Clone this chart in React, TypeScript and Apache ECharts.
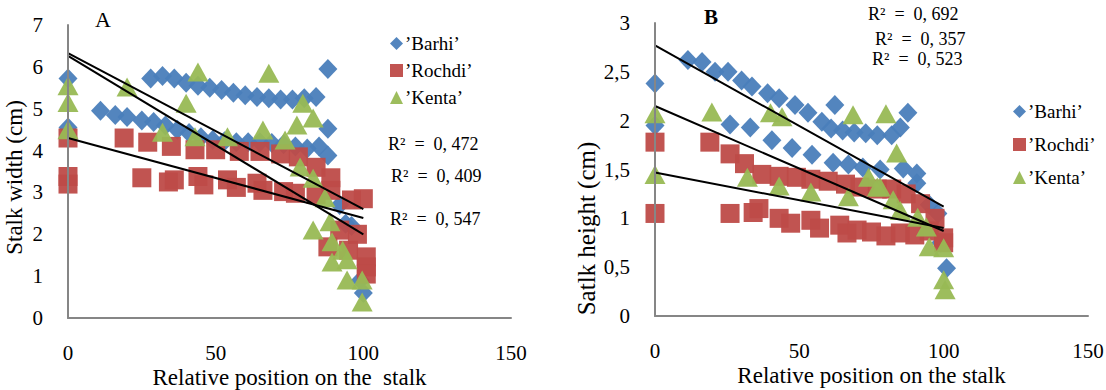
import React, { useEffect, useRef } from "react";
import * as echarts from "echarts";

const seriesNames = ["’Barhi’", "’Rochdi’", "’Kenta’"];
const xTicks = [0, 50, 100, 150];

// Chart A: stalk width (cm)
const barhiWidth = [
  [0, 5.72], [0, 4.55],
  [11, 4.95], [16, 4.85], [20, 4.8], [25, 4.72], [29, 4.68], [33, 4.6], [37, 4.5], [41, 4.42],
  [45, 4.32], [49, 4.25], [53, 4.22], [57, 4.2], [61, 4.2], [65, 4.2], [69, 4.18], [73, 4.15],
  [77, 4.1], [81, 4.05], [85, 4.1],
  [28, 5.72], [32, 5.78], [36, 5.72], [40, 5.62], [44, 5.55], [48, 5.5], [52, 5.45], [56, 5.38],
  [60, 5.32], [64, 5.28], [68, 5.25], [72, 5.22], [76, 5.22], [80, 5.25], [84, 5.28],
  [88, 5.95], [88, 4.52], [88, 3.88], [92, 2.7], [94, 2.25], [96, 2.2], [99, 0.9], [100, 0.6],
];
const rochdiWidth = [
  [0, 4.3], [0, 3.38], [0, 3.2],
  [19, 4.3], [27, 4.2], [35, 4.1], [43, 4.02], [50, 4.02], [58, 3.98], [65, 3.98], [72, 3.92],
  [78, 3.85], [84, 3.6], [89, 3.35], [96, 2.82], [100, 2.85],
  [25, 3.35], [34, 3.25], [36, 3.3], [44, 3.38], [46, 3.18], [54, 3.3], [57, 3.12], [64, 3.22],
  [66, 3.05], [73, 3.02], [77, 2.98], [84, 2.95], [89, 3.05],
  [88, 1.7], [92, 2.1], [95, 1.62], [98, 2.0], [101, 1.46], [101, 1.22], [101, 1.05],
];
const kentaWidth = [
  [0, 5.55], [0, 5.15], [0, 4.5],
  [20, 5.52], [32, 4.44], [40, 5.13], [44, 5.88], [43, 4.33], [54, 4.33], [66, 4.49], [68, 5.85],
  [73.5, 4.25], [77.5, 4.61], [79.5, 5.13], [83, 4.78], [78.6, 3.61], [83, 3.34], [87, 2.87],
  [83, 2.1], [88.7, 2.3], [89.4, 1.82], [93, 1.62], [89.4, 1.34], [94.5, 1.39], [94.5, 0.91],
  [99.6, 0.91], [99.6, 0.38],
];
const trendWidth = [
  [[0, 6.33], [100, 2.6]],
  [[0, 4.3], [100, 2.39]],
  [[0, 6.26], [100, 2.0]],
];
const r2Width = ["R²  =  0, 472", "R²  =  0, 409", "R²  =  0, 547"];

// Chart B: stalk height (cm)
const barhiHeight = [
  [0, 2.38], [0, 1.95],
  [11.4, 2.62], [16.3, 2.6], [20.8, 2.5], [25.3, 2.5], [30, 2.41], [33.6, 2.35], [39, 2.28],
  [43, 2.23], [48.5, 2.16], [53, 2.08], [57.8, 1.99], [62.3, 2.16], [61, 1.92], [65, 1.9],
  [69, 1.88], [73, 1.87], [77, 1.85], [82, 1.85], [85, 1.93], [87.6, 2.08],
  [26, 1.96], [33, 1.93], [40.5, 1.8], [47.5, 1.72], [54.4, 1.65], [61.7, 1.57], [67, 1.55],
  [72, 1.52], [78, 1.5], [86, 1.51], [90.7, 1.46],
  [90.7, 1.36], [95, 1.14], [98, 1.05], [99, 0.75], [101, 0.49],
];
const rochdiHeight = [
  [0, 1.78], [0, 1.05],
  [19, 1.78], [26, 1.66], [31, 1.56], [37, 1.45], [43, 1.43], [49, 1.42], [54, 1.4], [60, 1.38],
  [66, 1.35], [71, 1.32], [77, 1.3], [82, 1.3], [87, 1.25], [92, 1.15], [97, 1.0], [100, 0.8],
  [26, 1.05], [34, 1.06], [36, 1.1], [43, 1.0], [47, 0.95], [54, 0.98], [57, 0.9], [64, 0.93],
  [66.5, 0.85], [70, 0.88], [75, 0.86], [80, 0.82], [85, 0.85], [90, 0.83], [95, 0.87], [100, 0.75],
];
const kentaHeight = [
  [0, 2.07], [0, 1.45],
  [19.7, 2.09], [40, 2.08], [44, 2.04], [32, 1.42], [43, 1.33], [54, 1.27], [67, 1.22],
  [68.6, 2.06], [80, 2.07], [83.7, 1.67], [74, 1.42], [78, 1.32], [77, 1.32], [82.5, 1.19],
  [85, 1.08], [91, 1.01], [94, 0.91], [95, 0.71], [100, 0.7], [100, 0.37], [100.5, 0.27],
];
const trendHeight = [
  [[0, 2.77], [100, 1.12]],
  [[0, 1.47], [100, 0.9]],
  [[0, 2.15], [100, 0.87]],
];
const r2Height = ["R²  =  0, 692", "R²  =  0, 357", "R²  =  0, 523"];

const COLORS = ["#4A7EBB", "#BE4B48", "#98B954"];
const SYMBOLS = ["diamond", "rect", "triangle"];
const SIZES = [[19, 20], [19, 19], [21, 19]];
const FONT = "Liberation Serif";

export default function App() {
  const ref = useRef<HTMLDivElement>(null);
  useEffect(() => {
    if (!ref.current) return;
    const chart = echarts.init(ref.current, undefined, { renderer: "svg" });
    const lineStyle = { color: "#868686", width: 2 };
    const labelStyle = { color: "#000", fontFamily: FONT, fontSize: 21 };
    const nameStyle = { color: "#000", fontFamily: FONT, fontSize: 23 };
    const xAxisBase = (gi: number, gap: number) => ({
      type: "value",
      gridIndex: gi,
      position: "bottom",
      min: xTicks[0],
      max: xTicks[xTicks.length - 1],
      interval: 50,
      axisLine: { show: true, onZero: false, lineStyle },
      axisTick: { show: false },
      splitLine: { show: false },
      axisLabel: { ...labelStyle, margin: gap, lineHeight: 16 },
      name: gi === 0 ? "Relative position on the  stalk" : "Relative position on the stalk",
      nameLocation: "middle",
      nameGap: 50,
      nameMoveOverlap: false,
      nameTextStyle: { ...nameStyle, lineHeight: 18 },
      z: 20,
    });
    const series: any[] = [];
    const dataW = [barhiWidth, rochdiWidth, kentaWidth];
    const dataH = [barhiHeight, rochdiHeight, kentaHeight];
    [dataW, dataH].forEach((set, gi) => {
      set.forEach((d, i) => {
        series.push({
          type: "scatter",
          name: seriesNames[i],
          xAxisIndex: gi,
          yAxisIndex: gi,
          data: d,
          symbol: SYMBOLS[i],
          symbolSize: SIZES[i],
          itemStyle: { color: COLORS[i], opacity: 0.95 },
          z: 2 + i,
        });
      });
    });
    [trendWidth, trendHeight].forEach((set, gi) => {
      set.forEach((d) => {
        series.push({
          type: "line",
          xAxisIndex: gi,
          yAxisIndex: gi,
          data: d,
          symbol: "none",
          lineStyle: { color: "#000", width: 2 },
          z: 10,
        });
      });
    });
    const legendBase = {
      orient: "vertical",
      data: seriesNames,
      itemWidth: 13,
      itemHeight: 13,
      textStyle: { color: "#000", fontFamily: FONT, fontSize: 19, padding: [0, 0, 0, -3] },
    };
    const r2Text = (x: number, y: number, t: string) => ({
      type: "text",
      left: x,
      top: y,
      style: { text: t, font: `18px "${FONT}"`, fill: "#000" },
    });
    chart.setOption({
      animation: false,
      grid: [
        { left: 68, top: 25, width: 443, height: 293, outerBoundsMode: "none", containLabel: false },
        { left: 655, top: 23, width: 433, height: 293, outerBoundsMode: "none", containLabel: false },
      ],
      xAxis: [xAxisBase(0, 27), xAxisBase(1, 27)],
      yAxis: [
        {
          type: "value",
          gridIndex: 0,
          position: "left",
          min: 0,
          max: 7,
          interval: 1,
          axisLine: { show: true, onZero: false, lineStyle },
          axisTick: { show: false },
          splitLine: { show: false },
          axisLabel: { ...labelStyle, margin: 25 },
          name: "Stalk width (cm)",
          nameLocation: "middle",
          nameGap: 42,
          nameMoveOverlap: false,
          nameTextStyle: { ...nameStyle, padding: [0, 12, 0, 0] },
          z: 20,
        },
        {
          type: "value",
          gridIndex: 1,
          position: "left",
          min: 0,
          max: 3,
          interval: 0.5,
          axisLine: { show: true, onZero: false, lineStyle },
          axisTick: { show: false },
          splitLine: { show: false },
          axisLabel: {
            ...labelStyle,
            margin: 25,
            formatter: (v: number) => String(v).replace(".", ","),
          },
          name: "Satlk height (cm)",
          nameLocation: "middle",
          nameGap: 56,
          nameMoveOverlap: false,
          nameTextStyle: { ...nameStyle, fontSize: 25, padding: [0, 118, 0, 0] },
          z: 20,
        },
      ],
      legend: [
        { ...legendBase, left: 385, top: 29, itemGap: 8 },
        { ...legendBase, left: 1008, top: 97, itemGap: 14 },
      ],
      graphic: [
        { type: "text", left: 95, top: 8, style: { text: "A", font: `22px "${FONT}"`, fill: "#000" } },
        { type: "text", left: 704, top: 6, style: { text: "B", font: `bold 21px "${FONT}"`, fill: "#000" } },
        r2Text(388, 135, r2Width[0]),
        r2Text(391, 167, r2Width[1]),
        r2Text(390, 210, r2Width[2]),
        r2Text(868, 5, r2Height[0]),
        r2Text(875, 30, r2Height[1]),
        r2Text(872, 50, r2Height[2]),
      ],
      series,
    });
    return () => chart.dispose();
  }, []);
  return (
    <div
      ref={ref}
      style={{ position: "fixed", left: 0, top: 0, width: 1106, height: 390, background: "#fff" }}
    />
  );
}
